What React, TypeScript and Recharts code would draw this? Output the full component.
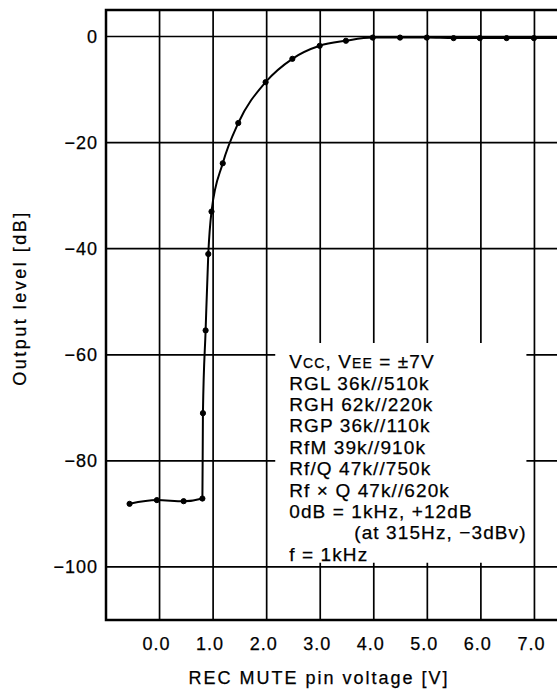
import { LineChart, Line, XAxis, YAxis, CartesianGrid, ReferenceArea } from "recharts"

// REC MUTE pin voltage [V] vs output level [dB]
const voltage = [-0.56, -0.05, 0.45, 0.8, 0.81, 0.86, 0.91, 0.97, 1.18, 1.47, 1.98, 2.48, 2.99, 3.48, 3.98, 4.49, 4.99, 5.49, 5.98, 6.48, 6.99, 7.5]
const level = [-88.1, -87.4, -87.6, -87.1, -71, -55.4, -41, -33, -23.9, -16.3, -8.6, -4.2, -1.75, -0.8, -0.2, -0.2, -0.2, -0.3, -0.3, -0.3, -0.3, -0.3]

const xTicks = [0, 1, 2, 3, 4, 5, 6, 7]
const yTicks = [0, -20, -40, -60, -80, -100]

const noteLines = [
  "RGL 36k//510k",
  "RGH 62k//220k",
  "RGP 36k//110k",
  "RfM 39k//910k",
  "Rf/Q 47k//750k",
  "Rf × Q 47k//620k",
  "0dB = 1kHz, +12dB",
]

const data = voltage.map((v, i) => ({ v, db: level[i] }))

const FONT = "'Liberation Sans', Arial, Helvetica, sans-serif"
const INK = { fill: "#000", stroke: "#000", strokeWidth: 0.25 }

function Note({ viewBox }: any) {
  const x = viewBox.x + 14
  const y = viewBox.y + 25
  const lh = 21.4
  const style = { fontFamily: FONT, fontSize: 19, letterSpacing: 1.1, ...INK }
  return (
    <g>
      <text x={x} y={y} style={style}>
        V<tspan fontSize={14}>CC</tspan>, V<tspan fontSize={14}>EE</tspan> = ±7V
      </text>
      {noteLines.map((t, i) => (
        <text key={t} x={x} y={y + lh * (i + 1)} style={style}>
          {t}
        </text>
      ))}
      <text x={x + 65} y={y + lh * 8} style={style}>
        (at 315Hz, −3dBv)
      </text>
      <text x={x} y={y + lh * 9} style={style}>
        f = 1kHz
      </text>
    </g>
  )
}

export default function App() {
  return (
    <div style={{ position: "absolute", left: 0, top: 0, width: 557, height: 690, overflow: "hidden", background: "#fff" }}>
      <LineChart width={588} height={690} data={data} margin={{ top: 10, right: 0, bottom: 0, left: 0 }}>
        <CartesianGrid stroke="#000" strokeWidth={1.7} vertical horizontal />
        <XAxis
          dataKey="v"
          type="number"
          domain={[-1, 8]}
          ticks={xTicks}
          allowDataOverflow
          height={70}
          axisLine={false}
          tickLine={false}
          tickSize={0}
          tickMargin={17}
          tickFormatter={(v: number) => v.toFixed(1)}
          tick={{ fontSize: 18, fontFamily: FONT, letterSpacing: 1, dx: -3, ...INK }}
          label={{
            content: ({ viewBox }: any) => (
              <text
                x={viewBox.x + viewBox.width / 2 - 28}
                y={viewBox.y + 64}
                textAnchor="middle"
                style={{ fontFamily: FONT, fontSize: 18, letterSpacing: 2, ...INK }}
              >
                REC MUTE pin voltage [V]
              </text>
            ),
          }}
        />
        <YAxis
          type="number"
          domain={[-110, 5]}
          ticks={yTicks}
          allowDataOverflow
          width={106}
          axisLine={false}
          tickLine={false}
          tickSize={0}
          tickMargin={8}
          tickFormatter={(v: number) => (v < 0 ? "−" + Math.abs(v) : String(v))}
          tick={{ fontSize: 18, fontFamily: FONT, letterSpacing: 1, ...INK }}
          label={{
            content: ({ viewBox }: any) => (
              <text
                transform={`translate(${viewBox.x + 26},${viewBox.y + viewBox.height / 2 - 17}) rotate(-90)`}
                textAnchor="middle"
                style={{ fontFamily: FONT, fontSize: 18, letterSpacing: 2.5, ...INK }}
              >
                Output level [dB]
              </text>
            ),
          }}
        />
        <ReferenceArea x1={2.16} x2={6.85} y1={-99.2} y2={-57.8} fill="#fff" fillOpacity={1} stroke="none" label={<Note />} />
        <ReferenceArea x1={-1} x2={8} y1={-110} y2={5} fill="none" stroke="#000" strokeWidth={2.5} />
        <Line
          dataKey="db"
          type="monotone"
          stroke="#000"
          strokeWidth={2}
          dot={{ r: 2.6, fill: "#000", stroke: "#000", strokeWidth: 1 }}
          isAnimationActive={false}
        />
      </LineChart>
    </div>
  )
}
